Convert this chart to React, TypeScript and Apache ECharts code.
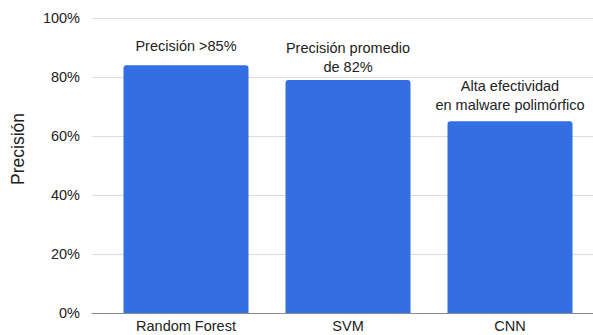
import React, { useEffect, useRef } from "react";
import * as echarts from "echarts";

const categories = ["Random Forest", "SVM", "CNN"];
const precision = [0.84, 0.79, 0.65];
const annotations = [
  "Precisión >85%",
  "Precisión promedio\nde 82%",
  "Alta efectividad\nen malware polimórfico",
];
const yAxisTitle = "Precisión";

export default function App() {
  const ref = useRef<HTMLDivElement>(null);
  useEffect(() => {
    document.body.style.margin = "0";
    if (!ref.current) return;
    const chart = echarts.init(ref.current, null, { renderer: "svg" });
    const font = "'Liberation Sans', Arial, sans-serif";
    const labelDistances = [10, 3, 7];
    chart.setOption({
      animation: false,
      textStyle: { fontFamily: font },
      grid: [
        { left: 92, right: 0, top: 18, bottom: 22 },
        { left: 105, right: 2, top: 18, bottom: 22 },
      ],
      graphic: [
        {
          type: "text",
          x: 17.5,
          y: 149,
          rotation: Math.PI / 2,
          style: {
            text: yAxisTitle,
            fill: "#222",
            fontSize: 17.5,
            fontFamily: font,
            textAlign: "center",
            textVerticalAlign: "middle",
          },
        },
      ],
      xAxis: [
        {
          type: "value",
          gridIndex: 0,
          min: 0,
          max: 1,
          axisLine: { show: true, lineStyle: { color: "#8a8a8a", width: 1 } },
          axisTick: { show: false },
          axisLabel: { show: false },
          splitLine: { show: false },
        },
        {
          type: "category",
          gridIndex: 1,
          data: categories,
          axisLine: { show: false },
          axisTick: { show: false },
          axisLabel: { color: "#222", fontSize: 14.5, margin: 5, fontFamily: font },
        },
      ],
      yAxis: [
        {
          type: "value",
          gridIndex: 0,
          min: 0,
          max: 1,
          interval: 0.2,
          axisLine: { show: false },
          axisTick: { show: false },
          axisLabel: {
            color: "#222",
            fontSize: 14.5,
            margin: 12,
            fontFamily: font,
            formatter: (v: number) => Math.round(v * 100) + "%",
          },
          splitLine: { show: true, lineStyle: { color: "#dcdcdc", width: 1 } },
        },
        {
          type: "value",
          gridIndex: 1,
          min: 0,
          max: 1,
          show: false,
          splitLine: { show: false },
        },
      ],
      series: [
        {
          type: "bar",
          xAxisIndex: 1,
          yAxisIndex: 1,
          barWidth: 125,
          data: precision.map((v, i) => ({
            value: v,
            label: {
              show: true,
              position: "top",
              distance: labelDistances[i],
              formatter: annotations[i],
              color: "#222",
              fontSize: 14.5,
              lineHeight: 19,
              fontFamily: font,
              align: "center",
            },
          })),
          itemStyle: { color: "#336fe2", borderRadius: [3, 3, 0, 0] },
        },
      ],
    });
    return () => chart.dispose();
  }, []);
  return <div ref={ref} style={{ width: 593, height: 335 }} />;
}
